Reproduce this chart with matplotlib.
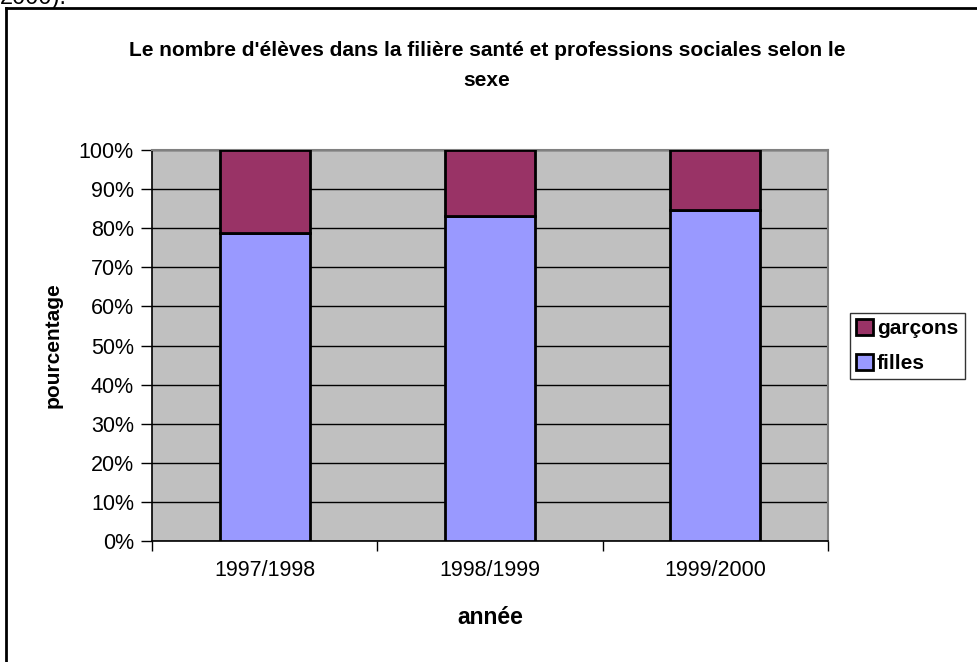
import numpy as np
import matplotlib.pyplot as plt
from matplotlib.ticker import PercentFormatter, FixedLocator
from matplotlib.lines import Line2D

# data (shares in %)
annees = ["1997/1998", "1998/1999", "1999/2000"]
filles = [78.7, 83.1, 84.7]
garcons = [21.3, 16.9, 15.3]

plt.rcParams['font.family'] = ['Liberation Sans', 'DejaVu Sans']

fig = plt.figure(figsize=(9.77, 6.62), dpi=100)
ax = fig.add_axes([152/977, 1-541/662, 676/977, 391/662])
ax.set_facecolor("#C0C0C0")

x = np.arange(len(annees))
ax.bar(x, filles, width=0.4, color="#9999FF", edgecolor="black", linewidth=2,
       label="filles", zorder=3)
ax.bar(x, garcons, width=0.4, bottom=filles, color="#993366", edgecolor="black",
       linewidth=2, label="garçons", zorder=3)

ax.set_xlim(-0.5, len(annees) - 0.5)
ax.set_ylim(0, 100)
ax.set_yticks(np.arange(0, 101, 10))
ax.yaxis.set_major_formatter(PercentFormatter(decimals=0))
ax.grid(axis="y", color="black", linewidth=1, zorder=1)

# x ticks at the category borders, labels in the middle
ax.set_xticks(x)
ax.set_xticklabels(annees)
ax.tick_params(axis="x", which="major", length=0, pad=14, labelsize=15.5)
ax.xaxis.set_minor_locator(FixedLocator(np.arange(-0.5, len(annees), 1)))
ax.tick_params(axis="x", which="minor", length=7, width=1, color="black")
ax.tick_params(axis="y", length=8, width=1, pad=5, labelsize=15.5)

for s in ["top", "right"]:
    ax.spines[s].set_color("#808080")
    ax.spines[s].set_linewidth(1.5)
for s in ["left", "bottom"]:
    ax.spines[s].set_color("black")
    ax.spines[s].set_linewidth(1.2)

ax.set_xlabel("année", fontsize=16.5, fontweight="bold", labelpad=18)
ax.set_ylabel("pourcentage", fontsize=15, fontweight="bold", labelpad=12)

# title on two lines, as in the original
fig.text(487/977, 1-51/662, "Le nombre d'élèves dans la filière santé et professions sociales selon le",
         ha="center", va="center", fontsize=15, fontweight="bold")
fig.text(487/977, 1-81/662, "sexe", ha="center", va="center", fontsize=15, fontweight="bold")

handles, labels = ax.get_legend_handles_labels()
leg = fig.legend(handles[::-1], labels[::-1], loc="center left",
                 bbox_to_anchor=(850/977, 1-346/662), frameon=True, fancybox=False,
                 prop={"size": 15, "weight": "bold"}, handlelength=0.8, handleheight=0.8,
                 handletextpad=0.2, borderpad=0.3, labelspacing=0.75, borderaxespad=0)
leg.get_frame().set_edgecolor("black")
leg.get_frame().set_linewidth(1)

# outer chart border (right/bottom edges are cut off in the source)
fig.add_artist(Line2D([6/977, 6/977], [0, 1-8/662], color="black", linewidth=2))
fig.add_artist(Line2D([6/977, 1], [1-8/662, 1-8/662], color="black", linewidth=2))
fig.text(0.0, 1-4/662, "2000).", ha="left", va="baseline", fontsize=17)

fig.savefig("out.png", dpi=100)
